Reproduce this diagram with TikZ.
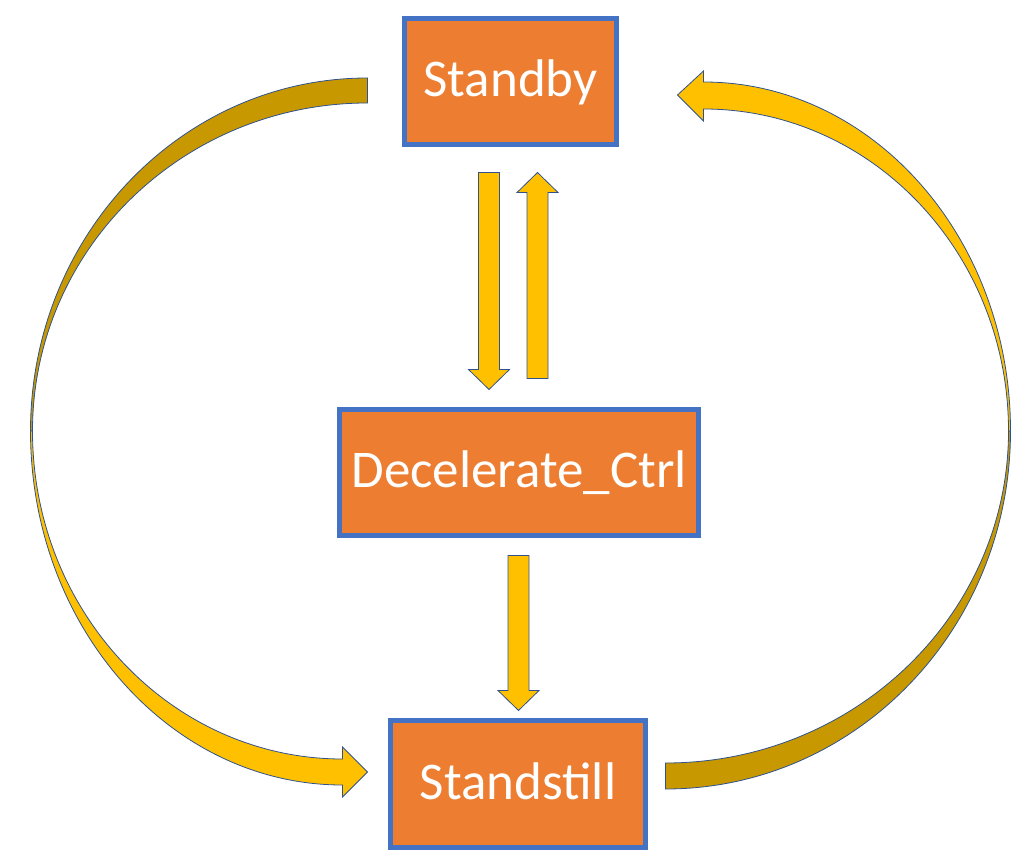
\documentclass[tikz,border=0pt]{standalone}
\usepackage{fontspec}
\setmainfont{Carlito}
\usepackage{xcolor}
\usetikzlibrary{calc}
\definecolor{boxfill}{HTML}{ED7D31}
\definecolor{boxline}{HTML}{4472C4}
\definecolor{arrowfill}{HTML}{FFC000}
\definecolor{arrowback}{HTML}{C89800}
\definecolor{arrowline}{HTML}{2F528F}

\begin{document}
\begin{tikzpicture}[x=1pt, y=1pt,
    state/.style={draw=boxline, line width=5pt, fill=boxfill, text=white,
        inner sep=0pt, font=\fontsize{53}{60}\selectfont,
        text height=34pt, text depth=4pt, minimum height=126pt},
    frontface/.style={draw=arrowline, fill=arrowfill, line width=0.8pt},
    backface/.style={draw=arrowline, fill=arrowback, line width=0.8pt},
    block/.style={frontface,
        to path={let \p1=(\tikztostart), \p2=(\tikztotarget),
            \n1={sign(\y2-\y1)*20} in
            (\x1-10.5,\y1) -- (\x1-10.5,\y2-\n1) -- (\x1-20.5,\y2-\n1)
            -- (\x2,\y2) -- (\x1+20.5,\y2-\n1) -- (\x1+10.5,\y2-\n1)
            -- (\x1+10.5,\y1) -- cycle}}]
    \useasboundingbox (0,0) rectangle (1032,863);

    \node[state, minimum width=212pt] (standby) at (510.5,781.5) {Standby};
    \node[state, minimum width=359pt] (decel) at (519,391) {Decelerate\_Ctrl};
    \node[state, minimum width=255pt, minimum height=127pt] (standstill) at (518,79) {Standstill};

    \coordinate (sbL) at ($(standby.south)+(-21.5,-25.5)$);
    \coordinate (sbR) at ($(standby.south)+(27,-25.5)$);
    \coordinate (dcL) at ($(sbL |- decel.north)+(0,17)$);
    \coordinate (dcR) at ($(sbR |- decel.north)+(0,28)$);
    \coordinate (dcB) at ($(decel.south)+(-0.5,-18)$);
    \coordinate (ssT) at ($(dcB |- standstill.north)+(0,7.5)$);

    \draw[block] (sbL) to (dcL);
    \draw[block] (dcR) to (sbR);
    \draw[block] (dcB) to (ssT);

    % left loop: Standby -> Standstill
    \draw[backface] ([shift={(-34.5,3.5)}]standby.west)
        arc[start angle=90, end angle=180, x radius=337, y radius=353] coordinate (lmid)
        -- ++(2,0) arc[start angle=180, end angle=90, x radius=335, y radius=328] -- cycle;
    \draw[frontface] (lmid)
        arc[start angle=180, end angle=270, x radius=312, y radius=354]
        -- ++(0,-12) -- ++(25,25) -- ++(-25,25) -- ++(0,-12)
        arc[start angle=270, end angle=180, x radius=310, y radius=328] -- cycle;

    % right loop: Standstill -> Standby
    \draw[backface] ([shift={(17.5,-5)}]standstill.east)
        arc[start angle=270, end angle=360, x radius=345, y radius=358] coordinate (rmid)
        -- ++(-2,0) arc[start angle=0, end angle=-90, x radius=343, y radius=332] -- cycle;
    \draw[frontface] (rmid)
        arc[start angle=0, end angle=90, x radius=307, y radius=349]
        -- ++(0,11) -- ++(-26,-24) -- ++(26,-26) -- ++(0,12)
        arc[start angle=90, end angle=0, x radius=305, y radius=322] -- cycle;

\end{tikzpicture}
\end{document}
